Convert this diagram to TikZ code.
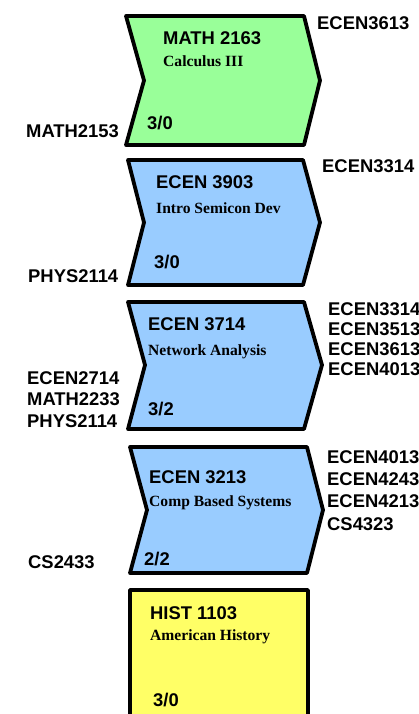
\documentclass[tikz,border=0pt]{standalone}
\usepackage{fontspec}
\setmainfont{Liberation Serif}
\newfontfamily\lsans{Liberation Sans}
\definecolor{cgreen}{RGB}{153,255,153}
\definecolor{cblue}{RGB}{153,204,255}
\definecolor{cyellow}{RGB}{255,255,102}
\begin{document}
\begin{tikzpicture}[x=1pt,y=-1pt,
  shp/.style={draw=black, line width=3.8pt, line join=round},
  ttl/.style={anchor=base west, inner sep=0pt, font=\lsans\bfseries\fontsize{18.4}{20}\selectfont},
  sub/.style={anchor=base west, inner sep=0pt, font=\bfseries\fontsize{15.6}{17}\selectfont},
  lbl/.style={ttl}]
\useasboundingbox (0,0) rectangle (419,714);
% shapes
\path[shp, fill=cgreen] (126,16) -- (304,16) -- (320,80.5) -- (304,145) -- (126,145) -- (144,80.5) -- cycle;
\path[shp, fill=cblue] (128,160) -- (303,160) -- (320,222.5) -- (303,285) -- (128,285) -- (144,222.5) -- cycle;
\path[shp, fill=cblue] (128,302) -- (304,302) -- (322,365) -- (304,429) -- (128,429) -- (145,365) -- cycle;
\path[shp, fill=cblue] (130,447) -- (307,447) -- (323,510) -- (307,573) -- (130,573) -- (147,510) -- cycle;
\path[shp, fill=cyellow] (130,590) rectangle (308,740);
% box 1
\node[ttl] (t1) at (163,45) {MATH 2163};
\node[sub] (s1) at (163,67) {Calculus III};
\node[ttl] (c1) at (147,130) {3/0};
\node[lbl] (l1) at (26,138) {MATH2153};
\node[lbl] (r1) at (317,30) {ECEN3613};
% box 2
\node[ttl] (t2) at (156,189) {ECEN 3903};
\node[sub] (s2) at (156,213) {Intro Semicon Dev};
\node[ttl] (c2) at (154,268) {3/0};
\node[lbl] (l2) at (28,282) {PHYS2114};
\node[lbl] (r2) at (322,172) {ECEN3314};
% box 3
\node[ttl] (t3) at (148,330.5) {ECEN 3714};
\node[sub] (s3) at (148,355) {Network Analysis};
\node[ttl] (c3) at (148,415) {3/2};
\node[lbl] (l3a) at (27,384) {ECEN2714};
\node[lbl] (l3b) at (27,405) {MATH2233};
\node[lbl] (l3c) at (27,427) {PHYS2114};
\node[lbl] (r3a) at (328,315) {ECEN3314};
\node[lbl] (r3b) at (328,335) {ECEN3513};
\node[lbl] (r3c) at (328,355) {ECEN3613};
\node[lbl] (r3d) at (328,375) {ECEN4013};
% box 4
\node[ttl] (t4) at (149,483) {ECEN 3213};
\node[sub] (s4) at (149,506) {Comp Based Systems};
\node[ttl] (c4) at (144,565) {2/2};
\node[lbl] (l4) at (28,568) {CS2433};
\node[lbl] (r4a) at (327,463) {ECEN4013};
\node[lbl] (r4b) at (327,485) {ECEN4243};
\node[lbl] (r4c) at (327,507) {ECEN4213};
\node[lbl] (r4d) at (327,530) {CS4323};
% box 5
\node[ttl] (t5) at (150,619) {HIST 1103};
\node[sub] (s5) at (150,640) {American History};
\node[ttl] (c5) at (153,706) {3/0};
\end{tikzpicture}
\end{document}
